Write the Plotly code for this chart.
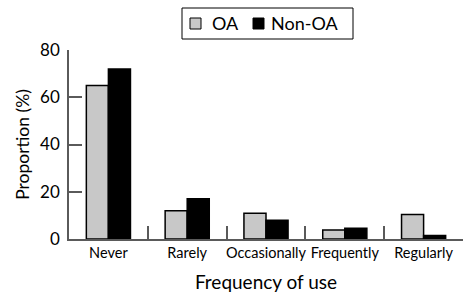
import plotly.graph_objects as go

categories = ["Never", "Rarely", "Occasionally", "Frequently", "Regularly"]
oa_values = [65, 12, 10.9, 3.8, 10.4]
non_oa_values = [72, 17, 7.9, 4.5, 1.5]
y_ticks = [0, 20, 40, 60, 80]
series_names = ["OA", "Non-OA"]
series_colors = ["#c8c8c8", "black"]

FONT = "Lato"
AX = "#5a5a5a"
W, H = 463, 295
L, R, T, B = 69, 0, 50, 56
PW, PH = W - L - R, H - T - B


def px(x):
    return (x - L) / PW


def py(y):
    return (H - B - y) / PH


fig = go.Figure()
for name, vals, col in zip(series_names, [oa_values, non_oa_values], series_colors):
    fig.add_trace(go.Bar(name=name, x=categories, y=vals, showlegend=False,
                         marker=dict(color=col, line=dict(color="black", width=1.5))))

# custom legend (box, swatches, labels)
shapes = [dict(type="rect", xref="paper", yref="paper",
               x0=px(182), x1=px(353), y0=py(39), y1=py(8),
               line=dict(color="black", width=1), fillcolor="white")]
annotations = []
for (sx, tx), name, col in zip([(190, 210), (253, 269)], series_names, series_colors):
    shapes.append(dict(type="rect", xref="paper", yref="paper",
                       x0=px(sx), x1=px(sx + 11), y0=py(29), y1=py(18),
                       line=dict(color="black", width=1), fillcolor=col))
    annotations.append(dict(text=name, xref="paper", yref="paper", x=px(tx), y=py(23.5),
                            xanchor="left", yanchor="middle", showarrow=False,
                            font=dict(size=18, family=FONT, color="black")))

fig.update_layout(
    width=W, height=H,
    margin=dict(l=L, r=R, t=T, b=B, autoexpand=False),
    paper_bgcolor="white", plot_bgcolor="white",
    barmode="group", bargap=0.44, bargroupgap=0,
    font=dict(family=FONT, color="black"),
    shapes=shapes, annotations=annotations,
    xaxis=dict(
        type="category", range=[-0.5, 4.5],
        showline=True, linecolor=AX, linewidth=2,
        tickson="boundaries", ticks="inside", ticklen=13, tickwidth=2, tickcolor=AX,
        tickfont=dict(size=14.5), ticklabelstandoff=0, tickangle=0,
        title=dict(text="Frequency of use", font=dict(size=19), standoff=15),
        showgrid=False, zeroline=False,
    ),
    yaxis=dict(
        range=[0, 80], tickvals=y_ticks,
        showline=True, linecolor=AX, linewidth=1.5,
        ticks="inside", ticklen=13, tickwidth=1.5, tickcolor=AX,
        tickfont=dict(size=17), ticklabelstandoff=4,
        title=dict(text="Proportion (%)", font=dict(size=17.5), standoff=6),
        showgrid=False, zeroline=False,
    ),
)

fig.write_html("out.html", config={"displayModeBar": False},
               post_script="document.body.style.margin='0';")
